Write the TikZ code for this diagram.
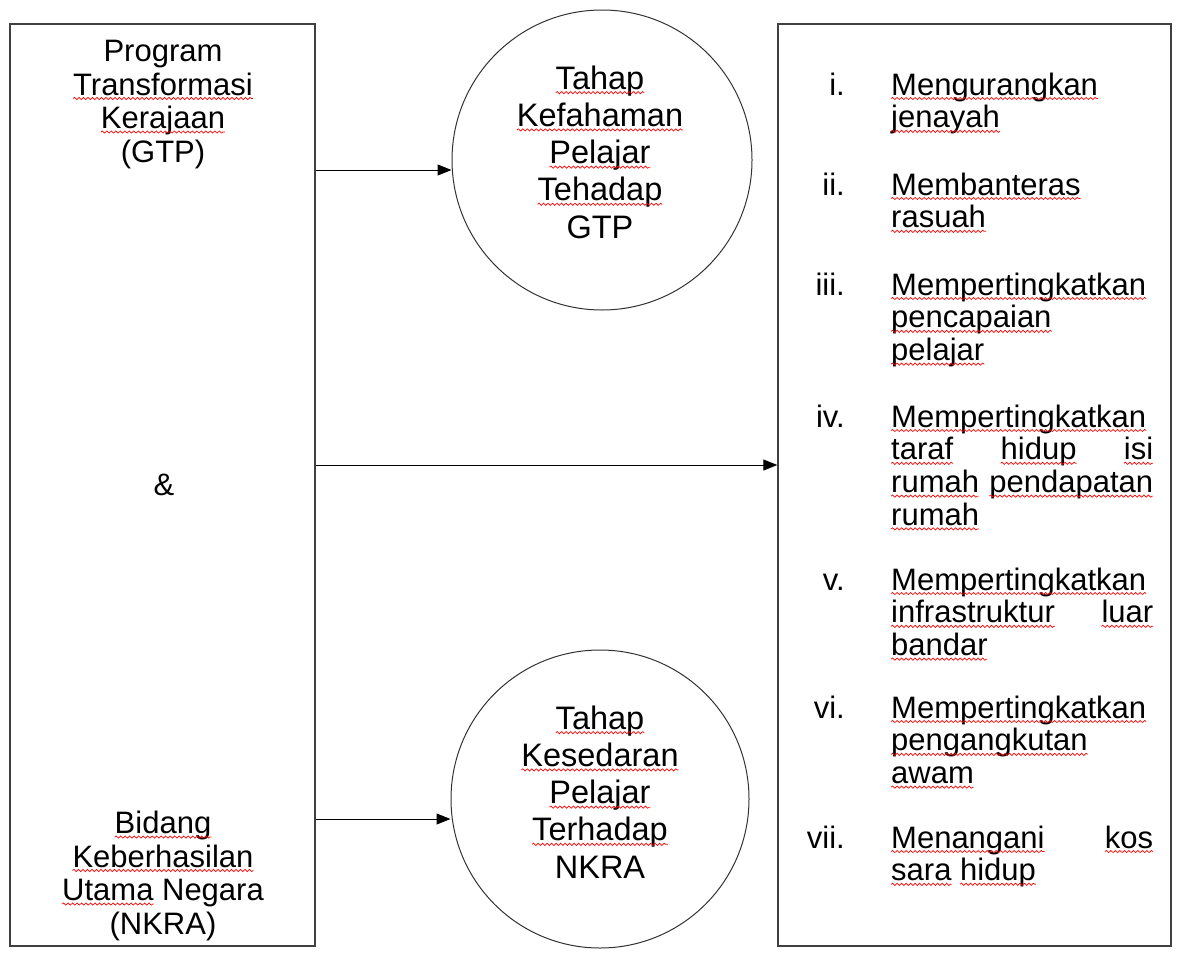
\documentclass[tikz,border=0pt]{standalone}
\usepackage{fontspec}
\setmainfont{Liberation Sans}
\usetikzlibrary{arrows.meta,decorations.pathmorphing}
\newcommand\sq[1]{\tikz[baseline=(w.base)]{\node[inner sep=0pt,outer sep=0pt] (w) {#1};
  \draw[overlay, red, line width=0.7pt, decorate, decoration={snake, amplitude=1.1pt, segment length=4.5pt}]
  ([yshift=-3.5pt]w.base west) -- ([yshift=-3.5pt]w.base east);}}

\begin{document}
\begin{tikzpicture}[x=1pt,y=-1pt,
  box/.style={draw=black!75, line width=1.4pt, inner sep=0pt},
  circ/.style={circle, draw=black!80, line width=1pt, inner sep=0pt},
  txt/.style={font=\fontsize{31}{33.5}\selectfont, align=center, inner sep=0pt},
  circtxt/.style={font=\fontsize{32.5}{37.2}\selectfont, align=center, inner sep=0pt},
  item/.style={font=\fontsize{31}{32.8}\selectfont, text width=262pt, align=justify, inner sep=0pt},
  num/.style={font=\fontsize{31}{32.8}\selectfont, inner sep=0pt},
  arr/.style={-{Triangle[length=14pt,width=11pt]}, line width=1pt}]
\useasboundingbox (0,0) rectangle (1180,972);

\node[box, minimum width=305, minimum height=922] (lbox) at (162.5,485) {};
\node[box, minimum width=393, minimum height=922] (rbox) at (974.5,485) {};
\node[circ, minimum size=300] (c1) at (602,160) {};
\node[circ, minimum size=298] (c2) at (600,799) {};

\node[txt, anchor=base] (gtp) at (163,162) {Program\\\sq{Transformasi}\\\sq{Kerajaan}\\(GTP)};
\node[txt, anchor=base] (amp) at (164,495) {\&};
\node[txt, anchor=base] (nkra) at (163,934) {\sq{Bidang}\\\sq{Keberhasilan}\\\sq{Utama} Negara\\(NKRA)};

\node[circtxt, anchor=base] (t1) at ([xshift=-2pt,yshift=-78pt]c1.center)
  {\sq{Tahap}\\\sq{Kefahaman}\\\sq{Pelajar}\\\sq{Tehadap}\\GTP};
\node[circtxt, anchor=base] (t2) at ([yshift=-79pt]c2.center)
  {\sq{Tahap}\\\sq{Kesedaran}\\\sq{Pelajar}\\\sq{Terhadap}\\NKRA};

\foreach \y/\lab/\txt [count=\k] in {
  95/i./{\sq{Mengurangkan}\linebreak \sq{jenayah}},
  195/ii./{\sq{Membanteras}\linebreak \sq{rasuah}},
  295/iii./{\sq{Mempertingkatkan}\linebreak \sq{pencapaian}\linebreak \sq{pelajar}},
  427/iv./{\sq{Mempertingkatkan}\linebreak \sq{taraf} \sq{hidup} \sq{isi}\linebreak \sq{rumah} \sq{pendapatan}\linebreak \sq{rumah}},
  590/v./{\sq{Mempertingkatkan}\linebreak \sq{infrastruktur} \sq{luar}\linebreak \sq{bandar}},
  718/vi./{\sq{Mempertingkatkan}\linebreak \sq{pengangkutan}\linebreak \sq{awam}},
  848/vii./{\sq{Menangani} \sq{kos}\linebreak \sq{sara} \sq{hidup}}}
{
  \node[num, anchor=base east] (num\k) at (845,\y) {\lab};
  \node[item, anchor=base west] (item\k) at (891,\y) {\txt};
}

\draw[arr] ([yshift=-10pt]lbox.east |- c1.west) -- ([yshift=-10pt]c1.west);
\draw[arr] ([yshift=20pt]lbox.east) -- ([yshift=20pt]rbox.west);
\draw[arr] ([yshift=-20pt]lbox.east |- c2.west) -- ([yshift=-20pt]c2.west);
\end{tikzpicture}
\end{document}
